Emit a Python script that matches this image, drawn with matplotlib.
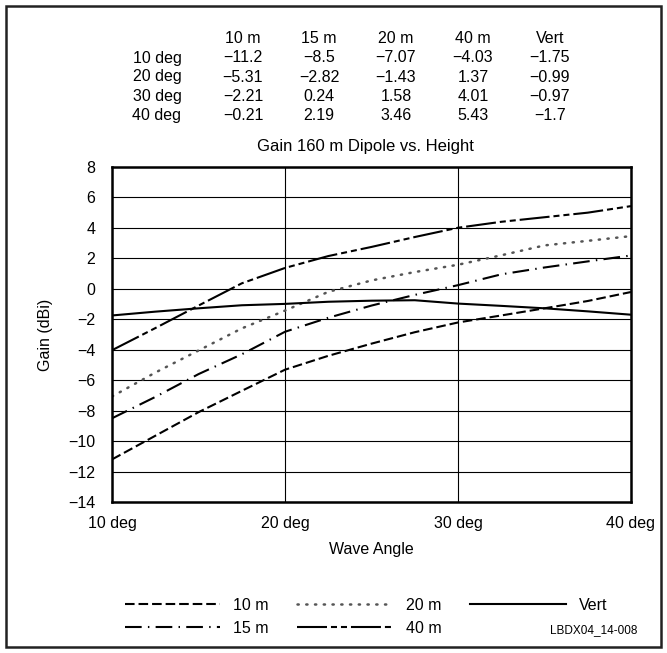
import matplotlib
matplotlib.use("Agg")
import matplotlib.pyplot as plt
from matplotlib.patches import Rectangle

plt.rcParams['font.family'] = ['Liberation Sans', 'DejaVu Sans']
plt.rcParams['font.size'] = 11.5

# wave angle (deg) and gain (dBi)
angles = [10, 12.5, 15, 17.5, 20, 22.5, 25, 27.5, 30, 32.5, 35, 37.5, 40]
gain_10m = [-11.2, -9.65, -8.1, -6.7, -5.31, -4.4, -3.6, -2.85, -2.21, -1.75, -1.28, -0.8, -0.21]
gain_15m = [-8.5, -7.1, -5.6, -4.3, -2.82, -1.9, -1.1, -0.4, 0.24, 0.95, 1.4, 1.8, 2.19]
gain_20m = [-7.07, -5.5, -4.05, -2.6, -1.43, -0.2, 0.55, 1.1, 1.58, 2.2, 2.85, 3.15, 3.46]
gain_40m = [-4.03, -2.58, -1.1, 0.36, 1.37, 2.15, 2.75, 3.4, 4.01, 4.4, 4.7, 5.0, 5.43]
gain_vert = [-1.75, -1.5, -1.28, -1.08, -0.99, -0.85, -0.78, -0.75, -0.97, -1.12, -1.28, -1.48, -1.7]

series_names = ["10 m", "15 m", "20 m", "40 m", "Vert"]
table_angles = [10, 20, 30, 40]
x_ticks = [10, 20, 30, 40]
x_ticklabels = ["10 deg", "20 deg", "30 deg", "40 deg"]
y_ticks = list(range(-14, 9, 2))

fig = plt.figure(figsize=(6.67, 6.53), dpi=100)
ax = fig.add_axes([0.168, 0.2312, 0.778, 0.5131])

styles = {
    "10 m": dict(color="black", lw=1.5, dashes=(4.6, 1.9)),
    "15 m": dict(color="black", lw=1.5, dashes=(8, 3, 0.7, 3)),
    "20 m": dict(color="#555555", lw=1.8, dashes=(0.5, 3.0), dash_capstyle="round"),
    "40 m": dict(color="black", lw=1.5, dashes=(14.4, 1.9, 2.9, 1.9, 2.9, 1.9)),
    "Vert": dict(color="black", lw=1.5),
}
data = {"10 m": gain_10m, "15 m": gain_15m, "20 m": gain_20m,
        "40 m": gain_40m, "Vert": gain_vert}

lines = {}
for name in series_names:
    lines[name], = ax.plot(angles, data[name], label=name, **styles[name])

ax.set_xlim(10, 40)
ax.set_ylim(-14, 8)
ax.set_xticks(x_ticks)
ax.set_xticklabels(x_ticklabels)
ax.set_yticks(y_ticks)
ax.tick_params(axis="x", length=0, pad=10)
ax.tick_params(axis="y", length=0, pad=12)
ax.grid(True, color="black", lw=0.8)
ax.set_axisbelow(True)
for sp in ax.spines.values():
    sp.set_linewidth(1.8)

ax.set_ylabel("Gain (dBi)")
ax.yaxis.set_label_coords(-0.114, 0.5)
ax.set_xlabel("Wave Angle")
ax.xaxis.set_label_coords(0.5, -0.12)

# data table above the chart
W, H = 667, 653
col_x = [243, 319, 396, 473, 550]
row_y = [58, 77, 96.5, 115.5]
for cx, name in zip(col_x, series_names):
    fig.text(cx / W, 1 - 38.5 / H, name, ha="center", va="center")
for ry, a in zip(row_y, table_angles):
    fig.text(157 / W, 1 - ry / H, f"{a} deg", ha="center", va="center")
    i = angles.index(a)
    for cx, name in zip(col_x, series_names):
        s = str(data[name][i]).replace("-", "\u2212")
        fig.text(cx / W, 1 - ry / H, s, ha="center", va="center")

fig.text(365 / W, 1 - 147 / H, "Gain 160 m Dipole vs. Height",
         ha="center", va="center", fontsize=12)

order = ["10 m", "15 m", "20 m", "40 m", "Vert"]
fig.legend([lines[n] for n in order], order, ncol=3, frameon=False,
           loc="center", bbox_to_anchor=(366 / W, 1 - 617 / H),
           handlelength=6.0, handletextpad=0.8, columnspacing=1.8,
           labelspacing=0.5)

fig.text(637 / W, 1 - 630 / H, "LBDX04_14-008", ha="right", va="center", fontsize=8.5)

fig.patches.append(Rectangle((6 / W, 6 / H), 655 / W, 641 / H, transform=fig.transFigure,
                             fill=False, lw=1.8, edgecolor="#222222"))

fig.savefig("out.png", dpi=100)
